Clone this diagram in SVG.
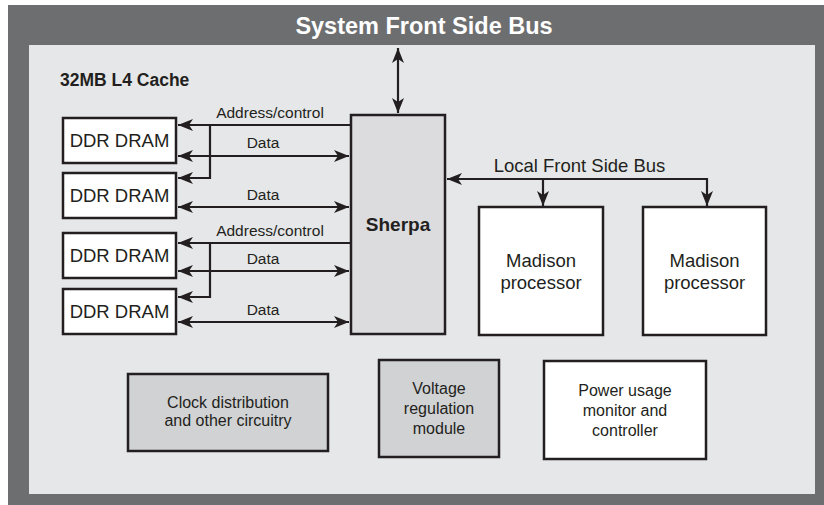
<svg xmlns="http://www.w3.org/2000/svg" width="824" height="505" viewBox="0 0 824 505">
<style>
.box{stroke:#231f20;stroke-width:2.5}
.w{fill:#ffffff}
.g{fill:#d1d2d4}
.sh{fill:#dcdcde}
.t{font-family:"Liberation Sans",Arial,sans-serif;fill:#231f20;text-anchor:middle}
.lab{font-size:15.5px}
.ddr{font-size:18.5px}
.bt{font-size:16px}
.mad{font-size:18.5px}
.con{fill:none;stroke:#231f20;stroke-width:2.2}
</style>
<defs>
<marker id="ah" markerUnits="userSpaceOnUse" markerWidth="16" markerHeight="13" refX="15" refY="6" orient="auto-start-reverse" viewBox="0 0 16 12">
<path d="M0,0 L15,6 L0,12 L4,6 Z" fill="#231f20"/>
</marker>
</defs>
<rect x="8" y="5" width="816" height="500" fill="#6d6e70"/>
<rect x="29" y="45" width="786" height="449" fill="#e6e7e8"/>
<text x="424" y="34" font-family="Liberation Sans,Arial,sans-serif" font-size="23.5" font-weight="bold" fill="#ffffff" text-anchor="middle">System Front Side Bus</text>
<text x="60" y="86" font-family="Liberation Sans,Arial,sans-serif" font-size="17.5" font-weight="bold" fill="#231f20">32MB L4 Cache</text>

<g id="connectors">
<path class="con" d="M351,125 H178" marker-end="url(#ah)"/>
<path class="con" d="M210,125 V178 H178" marker-end="url(#ah)"/>
<path class="con" d="M178,156 H349" marker-start="url(#ah)" marker-end="url(#ah)"/>
<path class="con" d="M178,207 H349" marker-start="url(#ah)" marker-end="url(#ah)"/>
<path class="con" d="M351,243 H178" marker-end="url(#ah)"/>
<path class="con" d="M210,243 V297 H178" marker-end="url(#ah)"/>
<path class="con" d="M178,271 H349" marker-start="url(#ah)" marker-end="url(#ah)"/>
<path class="con" d="M178,322 H349" marker-start="url(#ah)" marker-end="url(#ah)"/>
<path class="con" d="M398,48 V113" marker-start="url(#ah)" marker-end="url(#ah)"/>
<path class="con" d="M447,179 H707 V206" marker-start="url(#ah)" marker-end="url(#ah)"/>
<path class="con" d="M543,179 V206" marker-end="url(#ah)"/>
<text class="t lab" x="270" y="118">Address/control</text>
<text class="t lab" x="263" y="148">Data</text>
<text class="t lab" x="263" y="200">Data</text>
<text class="t lab" x="270" y="236">Address/control</text>
<text class="t lab" x="263" y="264">Data</text>
<text class="t lab" x="263" y="315">Data</text>
<text class="t" x="579.5" y="172" font-size="18.5">Local Front Side Bus</text>
</g>

<g id="ddr1"><rect class="box w" x="63" y="118" width="113" height="45"/><text class="t ddr" x="119.5" y="147">DDR DRAM</text></g>
<g id="ddr2"><rect class="box w" x="63" y="173" width="113" height="45"/><text class="t ddr" x="119.5" y="202">DDR DRAM</text></g>
<g id="ddr3"><rect class="box w" x="63" y="233" width="113" height="45"/><text class="t ddr" x="119.5" y="262">DDR DRAM</text></g>
<g id="ddr4"><rect class="box w" x="63" y="289" width="113" height="45"/><text class="t ddr" x="119.5" y="318">DDR DRAM</text></g>

<g id="sherpa"><rect class="box sh" x="351" y="115" width="94" height="219"/><text class="t" x="398" y="231" font-size="19" font-weight="bold">Sherpa</text></g>

<g id="madison1"><rect class="box w" x="479" y="207" width="124" height="128"/><text class="t mad" x="541" y="267">Madison</text><text class="t mad" x="541" y="289">processor</text></g>
<g id="madison2"><rect class="box w" x="643" y="207" width="123" height="128"/><text class="t mad" x="704.5" y="267">Madison</text><text class="t mad" x="704.5" y="289">processor</text></g>

<g id="clock"><rect class="box g" x="128" y="374" width="200" height="77"/><text class="t bt" x="228" y="408">Clock distribution</text><text class="t bt" x="228" y="426">and other circuitry</text></g>
<g id="voltage"><rect class="box g" x="379" y="360" width="120" height="97"/><text class="t bt" x="439" y="394">Voltage</text><text class="t bt" x="439" y="414">regulation</text><text class="t bt" x="439" y="434">module</text></g>
<g id="power"><rect class="box w" x="544" y="361" width="162" height="98"/><text class="t bt" x="625" y="396">Power usage</text><text class="t bt" x="625" y="416">monitor and</text><text class="t bt" x="625" y="436">controller</text></g>
</svg>
